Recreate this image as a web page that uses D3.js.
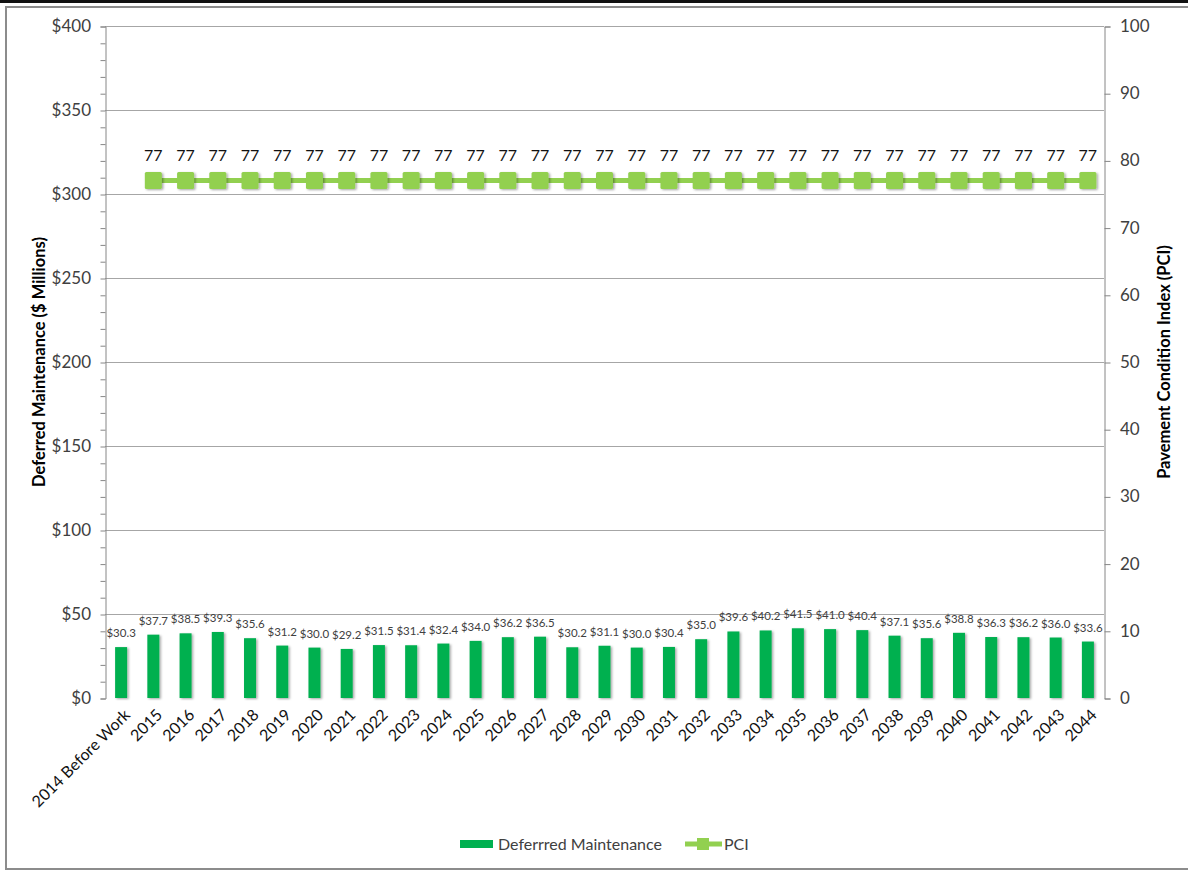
<!DOCTYPE html>
<html>
<head>
<meta charset="utf-8">
<script src="https://cdn.jsdelivr.net/npm/d3@7"></script>
<style>
  body { margin: 0; background: #fff; }
  text { font-family: Lato, "Open Sans", sans-serif; }
</style>
</head>
<body>
<script>
// categories and values
let years = ["2014 Before Work"];
for (let y = 2015; y <= 2044; y++) years.push(String(y));

let maintenance = [30.3, 37.7, 38.5, 39.3, 35.6, 31.2, 30.0, 29.2, 31.5, 31.4, 32.4,
  34.0, 36.2, 36.5, 30.2, 31.1, 30.0, 30.4, 35.0, 39.6, 40.2, 41.5, 41.0, 40.4,
  37.1, 35.6, 38.8, 36.3, 36.2, 36.0, 33.6];

// no PCI for the first category
let pci = [null, 77, 77, 77, 77, 77, 77, 77, 77, 77, 77, 77, 77, 77, 77, 77, 77, 77,
  77, 77, 77, 77, 77, 77, 77, 77, 77, 77, 77, 77, 77];

let leftTicks = [0, 50, 100, 150, 200, 250, 300, 350, 400];
let rightTicks = [0, 10, 20, 30, 40, 50, 60, 70, 80, 90, 100];

let width = 1188, height = 871;
let margin = {top: 26, right: 84, bottom: 173, left: 105};

let svg = d3.select('body').append('svg')
    .attr('width', width)
    .attr('height', height);

let defs = svg.append('defs');
let shadow = defs.append('filter').attr('id', 'shadow')
    .attr('x', '-50%').attr('y', '-20%').attr('width', '200%').attr('height', '140%');
shadow.append('feDropShadow')
    .attr('dx', 1.5).attr('dy', 1).attr('stdDeviation', 1.2)
    .attr('flood-color', '#000').attr('flood-opacity', 0.35);

// outer frame
svg.append('rect')
    .attr('x', 6).attr('y', 7)
    .attr('width', width + 10).attr('height', 862)
    .attr('fill', 'none').attr('stroke', '#8c8c8c').attr('stroke-width', 2);
svg.append('line')
    .attr('x1', 0).attr('x2', width).attr('y1', 1.5).attr('y2', 1.5)
    .attr('stroke', '#111').attr('stroke-width', 3);

let x0 = margin.left, x1 = width - margin.right;
let y0 = height - margin.bottom, y1 = margin.top;

let xScale = d3.scaleBand()
    .domain(years)
    .range([x0, x1]);

let yLeft = d3.scaleLinear()
    .domain([0, 400])
    .range([y0, y1]);

let yRight = d3.scaleLinear()
    .domain([0, 100])
    .range([y0, y1]);

// gridlines
svg.append('g')
  .selectAll('line')
  .data(leftTicks.slice(1))
  .enter()
  .append('line')
    .attr('x1', x0).attr('x2', x1)
    .attr('y1', d => Math.round(yLeft(d)) + 0.5)
    .attr('y2', d => Math.round(yLeft(d)) + 0.5)
    .attr('stroke', '#a6a6a6');

// left axis (minor ticks every $10)
let leftAxis = svg.append('g')
    .attr('transform', 'translate(' + (x0 + 0.5) + ',0.5)')
    .call(d3.axisLeft(yLeft).ticks(40).tickSize(5).tickFormat(''));
leftAxis.select('.domain').attr('stroke', '#868686');
leftAxis.selectAll('.tick line').attr('stroke', '#868686');

svg.append('g')
  .selectAll('text')
  .data(leftTicks)
  .enter()
  .append('text')
    .attr('x', x0 - 14)
    .attr('y', d => yLeft(d))
    .attr('dy', '0.35em')
    .attr('text-anchor', 'end')
    .attr('font-size', 17)
    .attr('fill', '#404040')
    .text(d => '$' + d);

// right axis
let rightAxis = svg.append('g')
    .attr('transform', 'translate(' + (x1 + 0.5) + ',0.5)')
    .call(d3.axisRight(yRight).tickValues(rightTicks).tickSize(6).tickFormat(''));
rightAxis.select('.domain').attr('stroke', '#868686');
rightAxis.selectAll('.tick line').attr('stroke', '#868686');

svg.append('g')
  .selectAll('text')
  .data(rightTicks)
  .enter()
  .append('text')
    .attr('x', x1 + 16)
    .attr('y', d => yRight(d))
    .attr('dy', '0.35em')
    .attr('font-size', 17)
    .attr('fill', '#404040')
    .text(d => d);

// category labels
svg.append('g')
  .selectAll('text')
  .data(years)
  .enter()
  .append('text')
    .attr('transform', d => 'translate(' + (xScale(d) + xScale.bandwidth() / 2 + 2) + ',' + (y0 + 10) + ') rotate(-45)')
    .attr('text-anchor', 'end')
    .attr('dy', '0.7em')
    .attr('font-size', 16)
    .attr('fill', '#111')
    .text(d => d);

// bars
let barW = 12;
svg.append('g')
  .selectAll('rect')
  .data(maintenance)
  .enter()
  .append('rect')
    .attr('x', (d, i) => xScale(years[i]) + xScale.bandwidth() / 2 - barW / 2)
    .attr('y', d => yLeft(d))
    .attr('width', barW)
    .attr('height', d => y0 - yLeft(d))
    .attr('fill', '#00b050')
    .attr('filter', 'url(#shadow)');

svg.append('g')
  .selectAll('text')
  .data(maintenance)
  .enter()
  .append('text')
    .attr('x', (d, i) => xScale(years[i]) + xScale.bandwidth() / 2)
    .attr('y', d => yLeft(d) - 10)
    .attr('text-anchor', 'middle')
    .attr('font-size', 11.5)
    .attr('fill', '#404040')
    .text(d => '$' + d.toFixed(1));

// PCI line
let pciPoints = pci.map((v, i) => ({cat: years[i], v: v})).filter(d => d.v !== null);
let line = d3.line()
    .x(d => xScale(d.cat) + xScale.bandwidth() / 2)
    .y(d => yRight(d.v));

svg.append('path')
    .datum(pciPoints)
    .attr('d', line)
    .attr('fill', 'none')
    .attr('stroke', '#92d050')
    .attr('stroke-width', 5);

svg.append('g')
  .selectAll('rect')
  .data(pciPoints)
  .enter()
  .append('rect')
    .attr('x', d => xScale(d.cat) + xScale.bandwidth() / 2 - 8.5)
    .attr('y', d => yRight(d.v) - 8.5)
    .attr('width', 17)
    .attr('height', 17)
    .attr('rx', 1.5)
    .attr('fill', '#92d050')
    .attr('filter', 'url(#shadow)');

svg.append('g')
  .selectAll('text')
  .data(pciPoints)
  .enter()
  .append('text')
    .attr('x', d => xScale(d.cat) + xScale.bandwidth() / 2)
    .attr('y', d => yRight(d.v) - 20)
    .attr('text-anchor', 'middle')
    .attr('font-size', 16)
    .attr('fill', '#111')
    .text(d => d.v);

// axis titles
svg.append('text')
    .attr('transform', 'translate(45,' + ((y0 + y1) / 2) + ') rotate(-90)')
    .attr('text-anchor', 'middle')
    .attr('font-size', 16.5)
    .attr('font-weight', 'bold')
    .attr('fill', '#000')
    .text('Deferred Maintenance ($ Millions)');

svg.append('text')
    .attr('transform', 'translate(1170,' + ((y0 + y1) / 2) + ') rotate(-90)')
    .attr('text-anchor', 'middle')
    .attr('font-size', 16.5)
    .attr('font-weight', 'bold')
    .attr('fill', '#000')
    .text('Pavement Condition Index (PCI)');

// legend
let legend = svg.append('g').attr('transform', 'translate(0,844)');
legend.append('rect')
    .attr('x', 460).attr('y', -4).attr('width', 33).attr('height', 8)
    .attr('fill', '#00b050');
legend.append('text')
    .attr('x', 498).attr('y', 0).attr('dy', '0.35em')
    .attr('font-size', 16).attr('fill', '#404040')
    .text('Deferrred Maintenance');
legend.append('line')
    .attr('x1', 685).attr('x2', 722).attr('y1', 0).attr('y2', 0)
    .attr('stroke', '#92d050').attr('stroke-width', 5);
legend.append('rect')
    .attr('x', 697).attr('y', -6).attr('width', 12).attr('height', 12)
    .attr('fill', '#92d050');
legend.append('text')
    .attr('x', 724).attr('y', 0).attr('dy', '0.35em')
    .attr('font-size', 16).attr('fill', '#404040')
    .text('PCI');
</script>
</body>
</html>
